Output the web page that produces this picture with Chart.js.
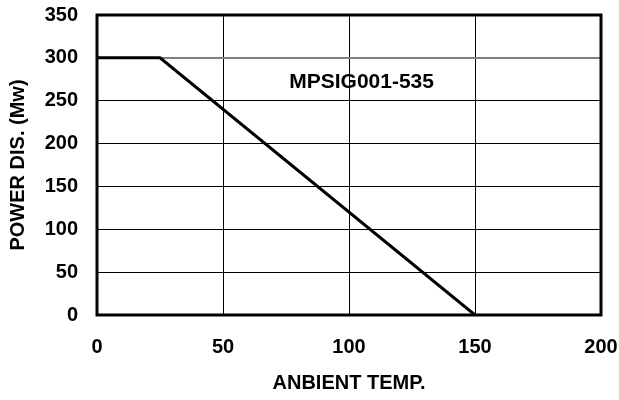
<!DOCTYPE html>
<html>
<head>
<meta charset="utf-8">
<script src="https://cdn.jsdelivr.net/npm/chart.js@4"></script>
<style>
  html, body { margin: 0; padding: 0; background: #fff; }
  #wrap { width: 619px; height: 400px; }
</style>
</head>
<body>
<div id="wrap"><canvas id="derating"></canvas></div>
<script>
// Derating curve data
const tempPoints = [0, 25, 150];
const powerPoints = [300, 300, 0];
const xTicks = [0, 50, 100, 150, 200];
const yTicks = [0, 50, 100, 150, 200, 250, 300, 350];
const partLabel = 'MPSIG001-535';
const labelAt = { x: 105, y: 272 };

const FONT = 'Liberation Sans, Arial, sans-serif';

// Frame around the plot + part number text
const framePlugin = {
    id: 'frame',
    afterDatasetsDraw(chart) {
        const { ctx, chartArea, scales } = chart;
        ctx.save();
        ctx.strokeStyle = '#000';
        ctx.lineWidth = 3;
        ctx.strokeRect(chartArea.left, chartArea.top, chartArea.right - chartArea.left, chartArea.bottom - chartArea.top);
        ctx.fillStyle = '#000';
        ctx.font = 'bold 21px ' + FONT;
        ctx.textAlign = 'center';
        ctx.textBaseline = 'middle';
        ctx.fillText(partLabel, scales.x.getPixelForValue(labelAt.x), scales.y.getPixelForValue(labelAt.y));
        ctx.restore();
    }
};

const points = tempPoints.map((t, i) => ({ x: t, y: powerPoints[i] }));

new Chart(document.getElementById('derating').getContext('2d'), {
    type: 'scatter',
    data: {
        datasets: [{
            data: points,
            showLine: true,
            borderColor: '#000',
            borderWidth: 3,
            pointRadius: 0,
            fill: false
        }]
    },
    options: {
        responsive: true,
        maintainAspectRatio: false,
        animation: false,
        layout: { padding: { left: 0, right: 18, top: 15, bottom: 0 } },
        plugins: { legend: { display: false }, tooltip: { enabled: false } },
        scales: {
            x: {
                type: 'linear',
                min: 0,
                max: 200,
                afterBuildTicks: s => { s.ticks = xTicks.map(v => ({ value: v })); },
                afterFit: s => { s.height = 85; s.paddingLeft = 0; s.paddingRight = 0; },
                ticks: { color: '#000', padding: 20, font: { family: FONT, size: 20, weight: 'bold' }, maxRotation: 0 },
                grid: { color: '#000', lineWidth: 1, drawTicks: false },
                border: { display: false },
                title: { display: true, text: 'ANBIENT TEMP.', color: '#000', padding: { top: 0, bottom: 5 }, font: { family: FONT, size: 20, weight: 'bold' } }
            },
            y: {
                type: 'linear',
                min: 0,
                max: 350,
                afterBuildTicks: s => { s.ticks = yTicks.map(v => ({ value: v })); },
                afterFit: s => { s.width = 97; s.paddingTop = 0; s.paddingBottom = 0; },
                ticks: { color: '#000', padding: 19, font: { family: FONT, size: 20, weight: 'bold' } },
                grid: {
                    drawTicks: false,
                    color: ctx => ctx.tick && ctx.tick.value === 300 ? '#808080' : '#000',
                    lineWidth: ctx => ctx.tick && ctx.tick.value === 300 ? 2 : 1
                },
                border: { display: false },
                title: { display: true, text: 'POWER DIS. (Mw)', color: '#000', padding: { top: 6, bottom: 0 }, font: { family: FONT, size: 20, weight: 'bold' } }
            }
        }
    },
    plugins: [framePlugin]
});
</script>
</body>
</html>
